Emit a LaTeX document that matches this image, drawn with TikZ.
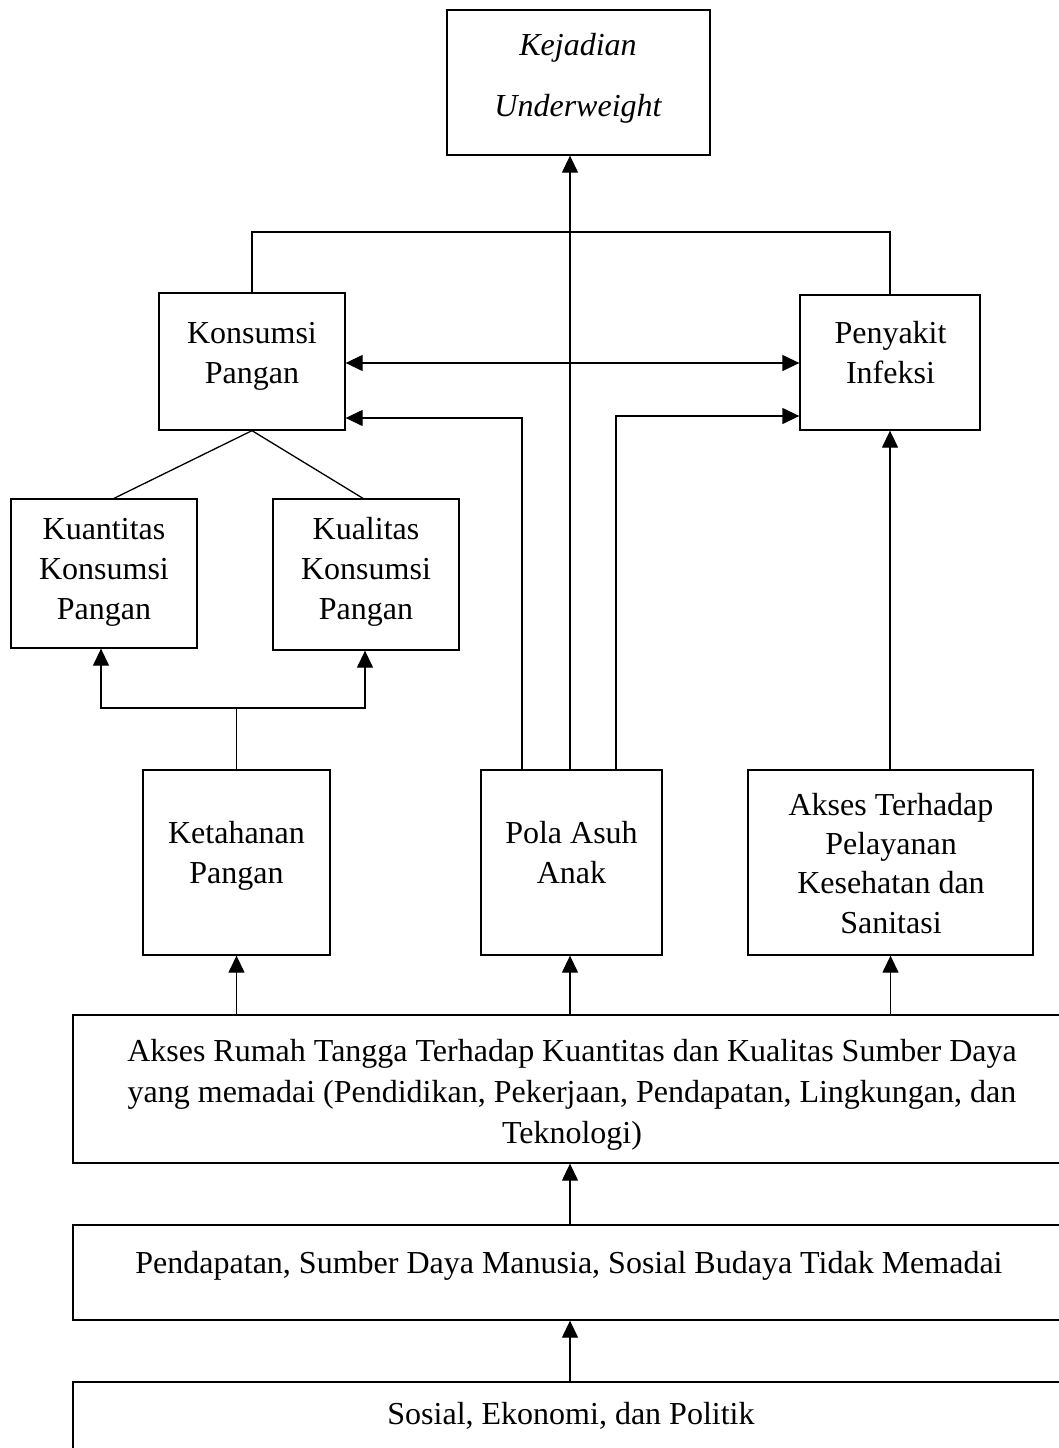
\documentclass[tikz,border=0pt]{standalone}
\usepackage{fontspec}
\setmainfont{Liberation Serif}
\usetikzlibrary{arrows.meta}
\tikzset{
  box/.style={draw, line width=1.3pt, inner sep=0pt, rectangle},
  txt/.style={inner sep=0pt, align=center, anchor=base, font=\fontsize{32}{40}\selectfont},
  conn/.style={line width=1.3pt},
  arr/.style={line width=1.3pt, -{Triangle[length=17pt,width=16pt]}},
  darr/.style={line width=1.3pt, {Triangle[length=17pt,width=16pt]}-{Triangle[length=17pt,width=16pt]}}
}
\begin{document}
\begin{tikzpicture}[x=1pt,y=-1pt]
\useasboundingbox (0,0) rectangle (1059,1448);
\clip (0,0) rectangle (1059,1448);
\fill[white] (0,0) rectangle (1059,1448);
% boxes
\node[box, minimum width=263pt, minimum height=145pt] (kej) at (578.5,82.5) {};
\node[box, minimum width=186pt, minimum height=137pt] (kons) at (252,361.5) {};
\node[box, minimum width=180pt, minimum height=135pt] (peny) at (890,362.5) {};
\node[box, minimum width=186pt, minimum height=149pt] (kuan) at (104,573.5) {};
\node[box, minimum width=186pt, minimum height=151pt] (kual) at (366,574.5) {};
\node[box, minimum width=187pt, minimum height=185pt] (ket) at (236.5,862.5) {};
\node[box, minimum width=181pt, minimum height=185pt] (pola) at (571.5,862.5) {};
\node[box, minimum width=285pt, minimum height=185pt] (akses) at (890.5,862.5) {};
\node[box, minimum width=995pt, minimum height=148pt] (w1) at (570.5,1089) {};
\node[box, minimum width=995pt, minimum height=95pt] (w2) at (570.5,1272.5) {};
\node[box, minimum width=995pt, minimum height=88pt] (w3) at (570.5,1426) {};
% texts (anchor = baseline of the last line)
\node[txt, font=\fontsize{32}{61}\selectfont\itshape] (kejt) at (578,116) {Kejadian\\Underweight};
\node[txt] (konst) at (252,383) {Konsumsi\\Pangan};
\node[txt] (penyt) at (890.5,383) {Penyakit\\Infeksi};
\node[txt] (kuant) at (104,619) {Kuantitas\\Konsumsi\\Pangan};
\node[txt] (kualt) at (366,619) {Kualitas\\Konsumsi\\Pangan};
\node[txt] (kett) at (236.5,883) {Ketahanan\\Pangan};
\node[txt] (polat) at (571.5,883) {Pola Asuh\\Anak};
\node[txt, font=\fontsize{32}{39.3}\selectfont] (aksest) at (891,933) {Akses Terhadap\\Pelayanan\\Kesehatan dan\\Sanitasi};
\node[txt, font=\fontsize{32}{41}\selectfont] (w1t) at (572,1143) {Akses Rumah Tangga Terhadap Kuantitas dan Kualitas Sumber Daya\\yang memadai (Pendidikan, Pekerjaan, Pendapatan, Lingkungan, dan\\Teknologi)};
\node[txt] (w2t) at (569,1273) {Pendapatan, Sumber Daya Manusia, Sosial Budaya Tidak Memadai};
\node[txt] (w3t) at (571,1424) {Sosial, Ekonomi, dan Politik};
% connectors
\coordinate (tb) at (570,232);
\coordinate (kj) at (237,708);
\draw[arr] ([xshift=-1.5pt]pola.north) -- ([xshift=-1.5pt]pola.north |- kej.south);
\draw[conn] (kons.north) |- (tb) -| (peny.north);
\draw[darr] ([yshift=-1.5pt]kons.east) -- ([yshift=-1.5pt]kons.east -| peny.west);
\draw[arr] ([xshift=-49.5pt]pola.north) |- ([yshift=-56.5pt]kons.east);
\draw[arr] ([xshift=44.5pt]pola.north) |- ([yshift=-53.5pt]peny.west);
\draw[conn] (kons.south) -- ([xshift=10pt]kuan.north);
\draw[conn] (kons.south) -- ([xshift=-3pt]kual.north);
\draw[conn] (ket.north) -- (ket.north |- kj);
\draw[arr] (ket.north |- kj) -| ([xshift=-3pt]kuan.south);
\draw[arr] (ket.north |- kj) -| ([xshift=-1pt]kual.south);
\draw[arr] (akses.north -| peny.south) -- (peny.south);
\draw[arr] (w1.north -| ket.south) -- (ket.south);
\draw[arr] ([xshift=-1.5pt]w1.north -| pola.south) -- ([xshift=-1.5pt]pola.south);
\draw[arr] (w1.north -| akses.south) -- (akses.south);
\draw[arr] ([xshift=-0.5pt]w2.north) -- ([xshift=-0.5pt]w1.south);
\draw[arr] ([xshift=-0.5pt]w3.north) -- ([xshift=-0.5pt]w2.south);
\end{tikzpicture}
\end{document}
